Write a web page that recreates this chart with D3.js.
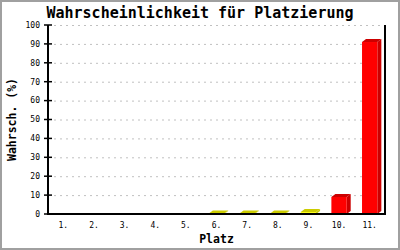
<!DOCTYPE html>
<html>
 <head>
  <meta charset="UTF-8">
  <title>Platzierung</title>
  <style>
    body { margin: 0; background: #fff; }
    text { font-family: "DejaVu Sans Mono", monospace; }
  </style>
 </head>
 <body>
<div id="viz-wrapper"></div>
 <script src="https://d3js.org/d3.v7.min.js" charset="utf-8"></script>
 <script type="text/javascript">
    // chart data
    var places = ["1.", "2.", "3.", "4.", "5.", "6.", "7.", "8.", "9.", "10.", "11."];
    var chances = [0, 0, 0, 0, 0, 0.3, 0.3, 0.3, 1, 9, 91];
    var yTicks = [0, 10, 20, 30, 40, 50, 60, 70, 80, 90, 100];

    var width = 400, height = 250;
    // plot box (note: "top" is taken by window.top, so prefixed names)
    var plotLeft = 48, plotRight = 385, plotTop = 25, plotBottom = 214;
    var depthX = 4, depthY = 3;

    var svg = d3.select("#viz-wrapper")
                .append("svg")
                .attr("width", width)
                .attr("height", height);

    // frame
    svg.append("rect")
       .attr("x", 1).attr("y", 1)
       .attr("width", width - 2).attr("height", height - 2)
       .style("fill", "#fff").style("stroke", "#a0a0a0").style("stroke-width", 2);

    var x = d3.scaleBand().domain(places).range([plotLeft, plotRight])
              .paddingInner(0.5).paddingOuter(0.25);
    var y = d3.scaleLinear().domain([0, 100]).range([plotBottom, plotTop]);

    // front colour and darker shade for the 3d faces
    var front = d3.scaleThreshold().domain([5]).range(["#ffff00", "#ff0000"]);
    var shade = d3.scaleThreshold().domain([5]).range(["#cccc00", "#cc0000"]);

    // dashed grid
    svg.selectAll("line.grid")
       .data(yTicks.filter(function(t) { return t > 0; }))
       .enter().append("line")
       .attr("class", "grid")
       .attr("x1", plotLeft + 6).attr("x2", plotRight - 2)
       .attr("y1", function(d) { return y(d) + 0.5; })
       .attr("y2", function(d) { return y(d) + 0.5; })
       .style("stroke", "#c0c0c0").style("stroke-dasharray", "2,4");

    // bars
    var data = places.map(function(p, i) { return {place: p, value: chances[i]}; })
                     .filter(function(d) { return d.value > 0; });
    var bars = svg.selectAll("g.bar").data(data).enter().append("g").attr("class", "bar");

    bars.append("path")
        .attr("d", function(d) {
          var x0 = x(d.place), x1 = x0 + x.bandwidth(), y0 = y(d.value);
          return "M" + x1 + "," + plotBottom + "L" + x1 + "," + y0 +
                 "L" + (x1 + depthX) + "," + (y0 - depthY) +
                 "L" + (x1 + depthX) + "," + (plotBottom - depthY) + "Z";
        })
        .style("fill", function(d) { return shade(d.value); });
    bars.append("path")
        .attr("d", function(d) {
          var x0 = x(d.place), x1 = x0 + x.bandwidth(), y0 = y(d.value);
          return "M" + x0 + "," + y0 + "L" + x1 + "," + y0 +
                 "L" + (x1 + depthX) + "," + (y0 - depthY) +
                 "L" + (x0 + depthX) + "," + (y0 - depthY) + "Z";
        })
        .style("fill", function(d) { return shade(d.value); });
    bars.append("rect")
        .attr("x", function(d) { return x(d.place); })
        .attr("y", function(d) { return y(d.value); })
        .attr("width", x.bandwidth())
        .attr("height", function(d) { return plotBottom - y(d.value); })
        .style("fill", function(d) { return front(d.value); });

    // axes
    svg.append("line").attr("x1", plotLeft).attr("x2", plotLeft)
       .attr("y1", plotTop).attr("y2", plotBottom + 1)
       .style("stroke", "#000").style("stroke-width", 2);
    svg.append("line").attr("x1", plotRight).attr("x2", plotRight)
       .attr("y1", plotTop).attr("y2", plotBottom + 1)
       .style("stroke", "#000").style("stroke-width", 2);
    svg.append("line").attr("x1", plotLeft - 1).attr("x2", plotRight + 1)
       .attr("y1", plotBottom).attr("y2", plotBottom)
       .style("stroke", "#000").style("stroke-width", 2);

    svg.selectAll("line.ytick").data(yTicks).enter().append("line")
       .attr("class", "ytick")
       .attr("x1", plotLeft - 4).attr("x2", plotLeft + 4)
       .attr("y1", function(d) { return y(d); })
       .attr("y2", function(d) { return y(d); })
       .style("stroke", "#000").style("stroke-width", 1.5);

    svg.selectAll("text.ylab").data(yTicks).enter().append("text")
       .attr("class", "ylab")
       .attr("x", plotLeft - 8)
       .attr("y", function(d) { return y(d); })
       .attr("dy", "0.35em")
       .attr("text-anchor", "end")
       .style("font-size", "8px")
       .text(function(d) { return d; });

    svg.selectAll("text.xlab").data(places).enter().append("text")
       .attr("class", "xlab")
       .attr("x", function(d) { return x(d) + x.bandwidth() / 2; })
       .attr("y", 225)
       .attr("dy", "0.35em")
       .attr("text-anchor", "middle")
       .style("font-size", "8px")
       .text(function(d) { return d; });

    // titles
    svg.append("text")
       .attr("x", 200).attr("y", 18)
       .attr("text-anchor", "middle")
       .style("font-size", "15px").style("font-weight", "bold")
       .text("Wahrscheinlichkeit für Platzierung");
    svg.append("text")
       .attr("x", (plotLeft + plotRight) / 2).attr("y", 243)
       .attr("text-anchor", "middle")
       .style("font-size", "11.5px").style("font-weight", "bold")
       .text("Platz");
    svg.append("text")
       .attr("transform", "translate(16," + ((plotTop + plotBottom) / 2) + ") rotate(-90)")
       .attr("text-anchor", "middle")
       .style("font-size", "11.5px").style("font-weight", "bold")
       .text("Wahrsch. (%)");
 </script>
 </body>
</html>
